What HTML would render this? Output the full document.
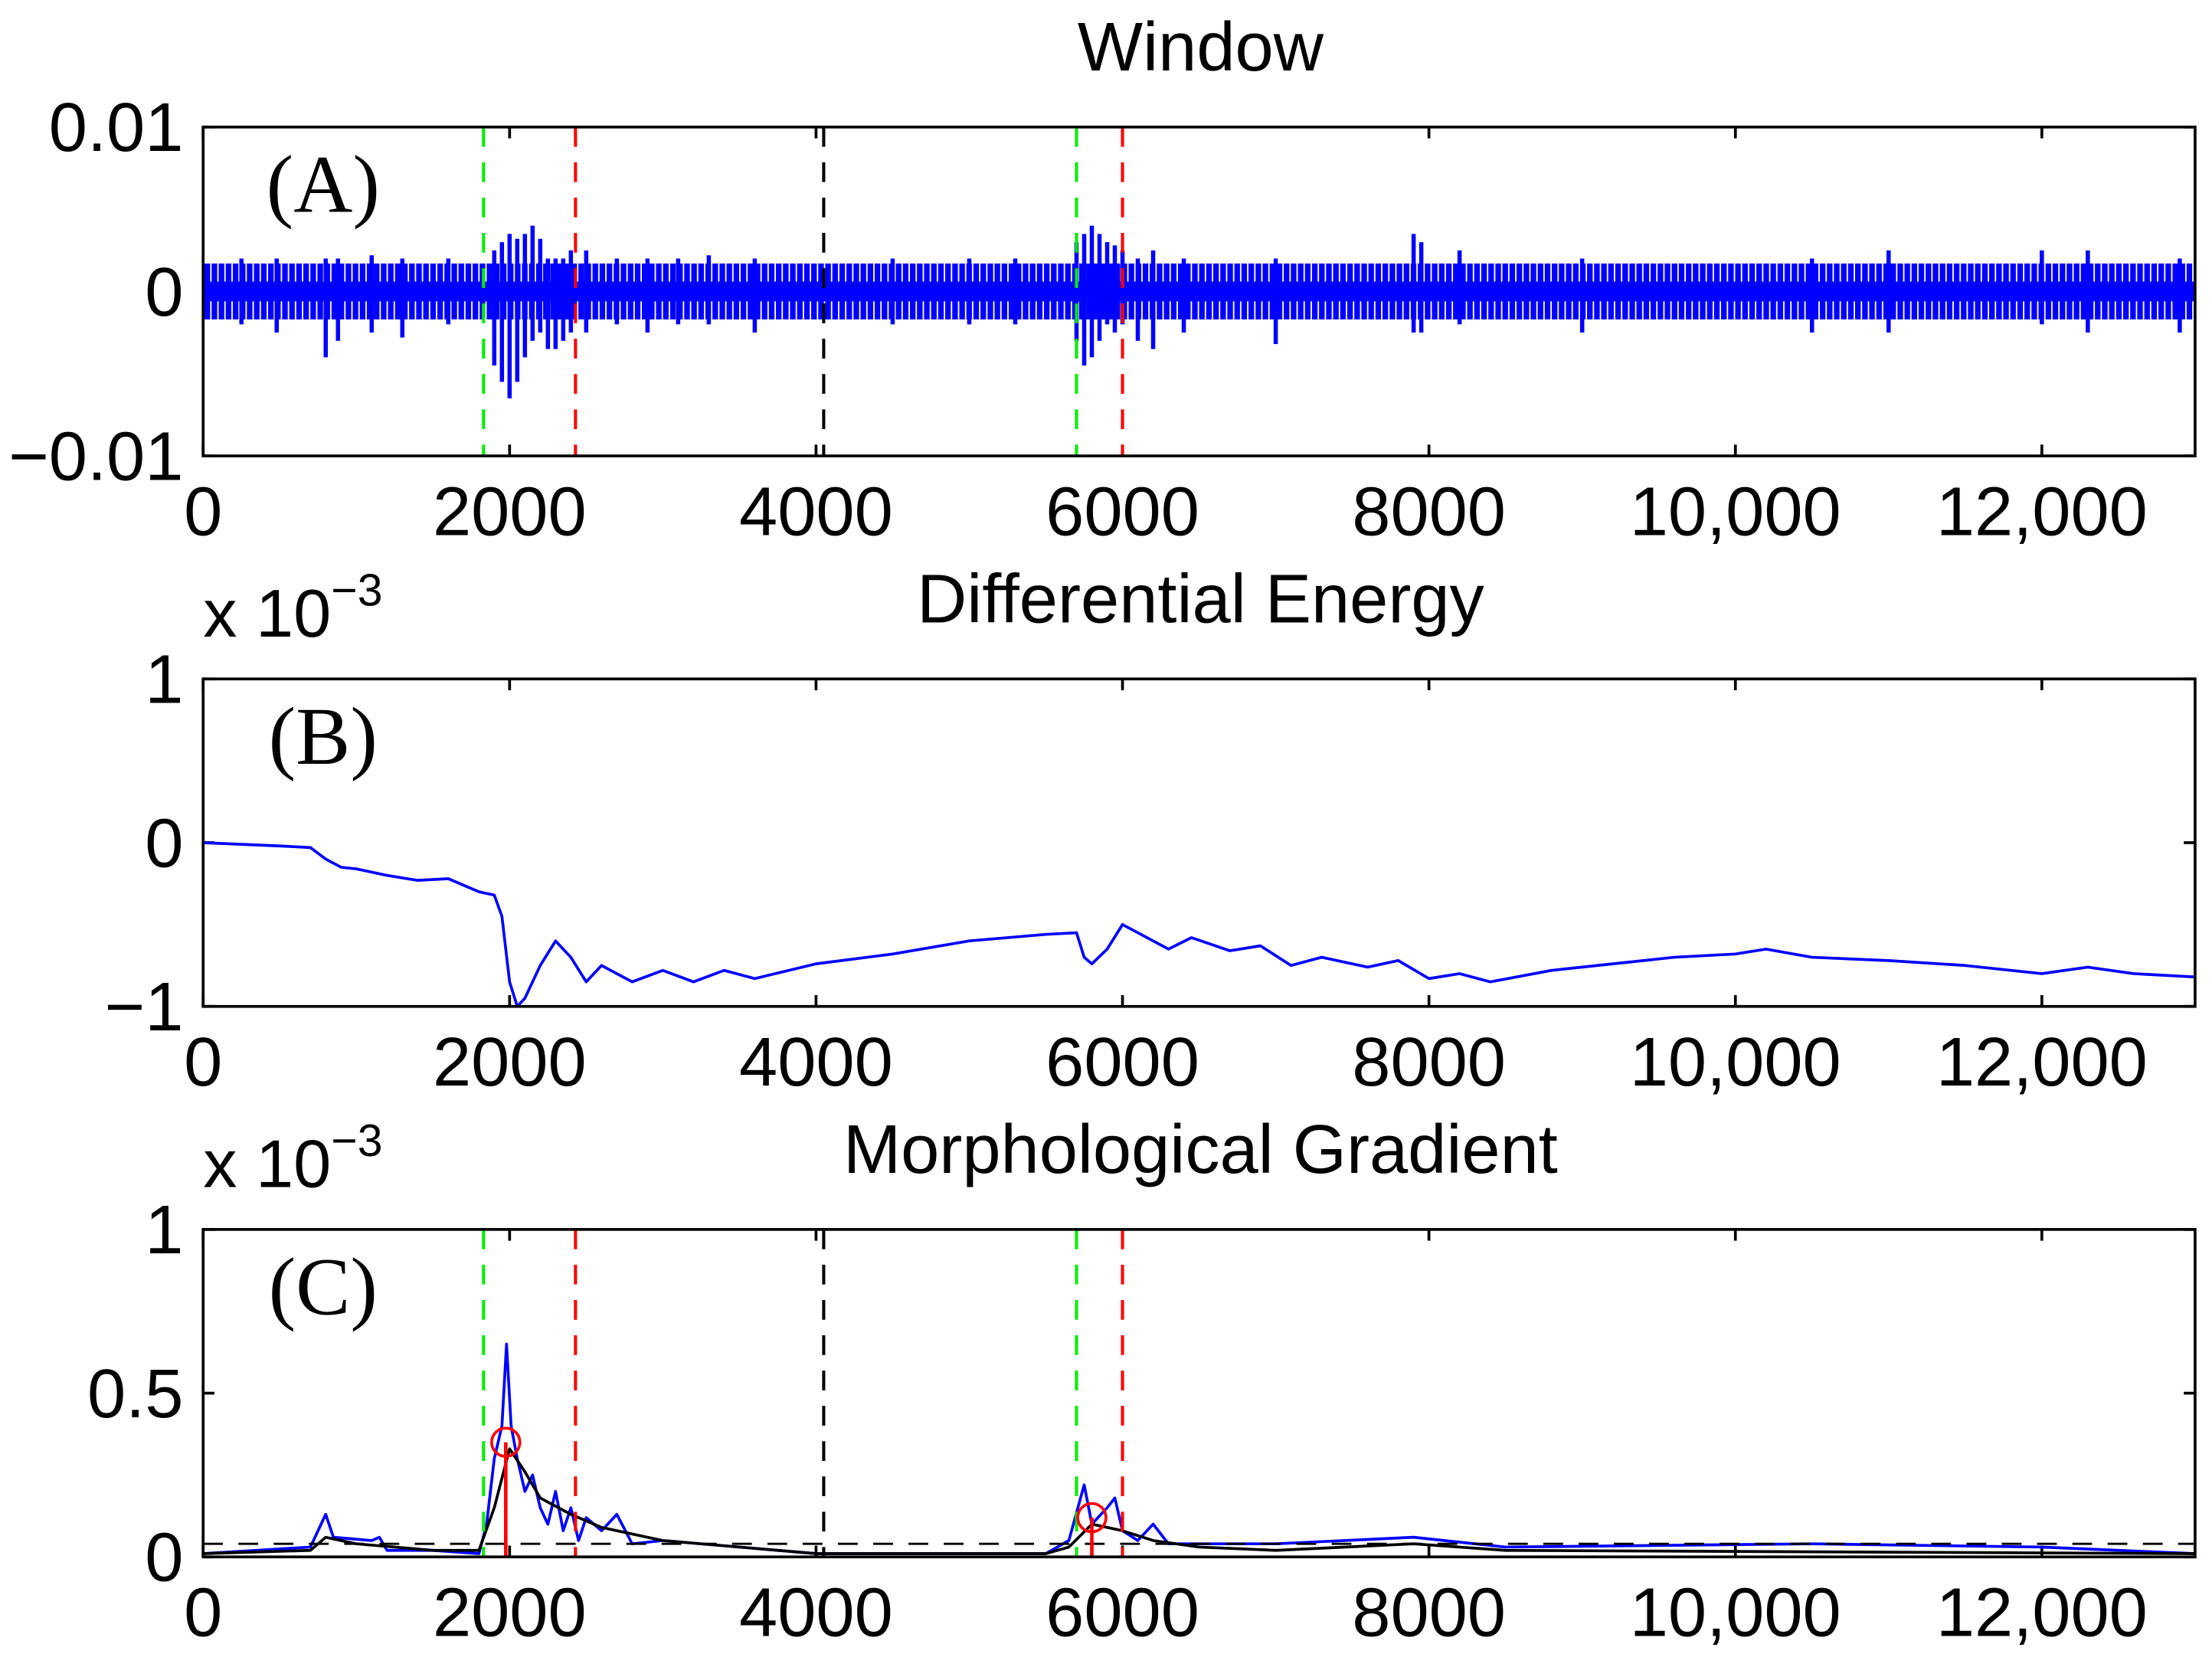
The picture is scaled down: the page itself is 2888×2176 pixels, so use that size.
<!DOCTYPE html>
<html><head><meta charset="utf-8"><style>
html,body{margin:0;padding:0;background:#fff}
svg{display:block}
text{font-family:"Liberation Sans",sans-serif;fill:#000}
.serif{font-family:"Liberation Serif",serif}
</style></head><body>
<svg id="fig" width="2888" height="2176" viewBox="0 0 1568 1181" preserveAspectRatio="none" xmlns="http://www.w3.org/2000/svg">
<defs><pattern id="noise" patternUnits="userSpaceOnUse" width="5" height="10"><rect x="0" y="0" width="4" height="10" fill="#0000ff"/></pattern></defs>
</svg>
<script>
// ---- data ----
const xTicks = [0,2000,4000,6000,8000,10000,12000];
const xTickLabels = ["0","2000","4000","6000","8000","10,000","12,000"];
const aYTicks = [-0.01,0,0.01];
const aYTickLabels = ["\u22120.01","0","0.01"];
const bYTicks = [-1,0,1];
const bYTickLabels = ["\u22121","0","1"];
const cYTicks = [0,0.5,1];
const cYTickLabels = ["0","0.5","1"];
const aBandLo = -0.0017, aBandHi = 0.0017;
const aSpikeX  = [250,480,800,880,1100,1300,1600,1900,1950,2000,2050,2100,2150,2200,2250,2300,2350,2400,2500,2700,2900,3100,3300,3600,4500,5000,5300,5700,5750,5800,5850,5900,5950,6000,6100,6200,6400,7000,7900,7950,8200,9000,10500,11000,12000,12300,12900];
const aSpikeLo = [-0.002,-0.0025,-0.004,-0.003,-0.0025,-0.0028,-0.002,-0.0045,-0.0055,-0.0065,-0.0055,-0.004,-0.003,-0.0025,-0.0035,-0.0035,-0.003,-0.0025,-0.0025,-0.002,-0.0025,-0.002,-0.002,-0.0025,-0.002,-0.002,-0.002,-0.003,-0.0045,-0.004,-0.003,-0.002,-0.0025,-0.002,-0.003,-0.0035,-0.0025,-0.0032,-0.0025,-0.0025,-0.002,-0.0025,-0.0025,-0.0025,-0.002,-0.0025,-0.0025];
const aSpikeHi = [0.002,0.002,0.002,0.002,0.0022,0.002,0.002,0.0025,0.003,0.0035,0.0032,0.0035,0.004,0.0032,0.002,0.002,0.002,0.0025,0.0025,0.002,0.002,0.002,0.0022,0.002,0.002,0.002,0.002,0.003,0.0035,0.004,0.0035,0.003,0.0028,0.0025,0.002,0.0025,0.002,0.002,0.0035,0.003,0.0025,0.002,0.002,0.0025,0.0025,0.0025,0.002];
const bX = [0,500,700,800,900,1000,1200,1400,1600,1800,1900,1950,2000,2050,2100,2200,2300,2400,2500,2600,2700,2800,3000,3200,3400,3600,4000,4500,5000,5500,5700,5750,5800,5900,6000,6100,6300,6450,6700,6900,7100,7300,7600,7800,8000,8200,8400,8800,9200,9600,10000,10200,10500,11000,11500,12000,12300,12600,13000];
const bY = [0,-0.02,-0.03,-0.1,-0.15,-0.16,-0.2,-0.23,-0.22,-0.3,-0.32,-0.45,-0.85,-1.0,-0.95,-0.75,-0.6,-0.7,-0.85,-0.75,-0.8,-0.85,-0.78,-0.85,-0.78,-0.83,-0.74,-0.68,-0.6,-0.56,-0.55,-0.7,-0.74,-0.65,-0.5,-0.55,-0.65,-0.58,-0.66,-0.63,-0.75,-0.7,-0.76,-0.72,-0.83,-0.8,-0.85,-0.78,-0.74,-0.7,-0.68,-0.65,-0.7,-0.72,-0.75,-0.8,-0.76,-0.8,-0.82];
const cBlueX = [0,700,800,850,1100,1150,1200,1500,1800,1850,1900,1950,1980,2010,2050,2100,2150,2200,2250,2300,2350,2400,2450,2500,2600,2700,2800,3000,3500,4000,5000,5500,5650,5750,5800,5900,5950,6000,6100,6200,6300,7000,7900,8500,10500,12000,13000];
const cBlueY = [0.01,0.03,0.13,0.06,0.05,0.06,0.02,0.02,0.01,0.1,0.3,0.4,0.65,0.4,0.3,0.2,0.25,0.15,0.1,0.2,0.08,0.15,0.05,0.12,0.08,0.13,0.04,0.05,0.03,0.01,0.01,0.01,0.05,0.22,0.1,0.15,0.18,0.08,0.05,0.1,0.04,0.04,0.06,0.03,0.04,0.03,0.01];
const cBlackX = [0,700,800,1000,1500,1800,1900,2000,2100,2200,2400,2600,3000,3500,4000,5500,5650,5800,6000,6200,6500,7000,7900,8500,13000];
const cBlackY = [0.01,0.02,0.06,0.04,0.02,0.02,0.15,0.33,0.26,0.18,0.13,0.09,0.05,0.03,0.01,0.01,0.03,0.1,0.08,0.05,0.03,0.02,0.04,0.02,0.01];
const cThreshold = 0.04;
const cPeakX = [1975,5800];
const cPeakY = [0.35,0.12];
const markerX = [1830,2430,4050,5700,6000];
const markerColor = ["#00ee00","#ff0000","#000000","#00ee00","#ff0000"];

// ---- drawing ----
const NS="http://www.w3.org/2000/svg";
const svg=document.getElementById('fig');
const X0=144,X1=1556,XMAX=13000;
const sx=v=>X0+(X1-X0)*v/XMAX;
function el(tag,attrs,parent){const e=document.createElementNS(NS,tag);for(const k in attrs)e.setAttribute(k,attrs[k]);(parent||svg).appendChild(e);return e;}
function txt(s,x,y,size,anchor,parent,cls){const t=el('text',{x:x,y:y,'font-size':size,'text-anchor':anchor||'middle'},parent);if(cls)t.setAttribute('class',cls);t.textContent=s;return t;}

const panels=[
 {id:'a',top:90,bot:323,min:-0.01,max:0.01,ticks:aYTicks,labels:aYTickLabels,title:'Window',tag:'(A)'},
 {id:'b',top:481,bot:713,min:-1,max:1,ticks:bYTicks,labels:bYTickLabels,title:'Differential Energy',tag:'(B)'},
 {id:'c',top:871,bot:1103,min:0,max:1,ticks:cYTicks,labels:cYTickLabels,title:'Morphological Gradient',tag:'(C)'}
];
panels.forEach(p=>{
 p.sy=v=>p.bot-(p.bot-p.top)*(v-p.min)/(p.max-p.min);
 const g=el('g',{});
 
 
 p.g=g;
 const t=txt(p.title,851,p.top-40,49,'middle',g);
 
 
 const tg=txt(p.tag,229,p.top+60,58,'middle',g,'serif');
 
 
 xTicks.forEach((v,i)=>{
  const l=txt(xTickLabels[i],sx(v),p.bot+56,49,'middle',g);
  
  
  el('line',{x1:sx(v),x2:sx(v),y1:p.bot,y2:p.bot-8,stroke:'#000','stroke-width':2},g);
  el('line',{x1:sx(v),x2:sx(v),y1:p.top,y2:p.top+8,stroke:'#000','stroke-width':2},g);
 });
 p.ticks.forEach((v,i)=>{
  const l=txt(p.labels[i],130,p.sy(v)+17,49,'end',g);
  
  
  el('line',{x1:X0,x2:X0+8,y1:p.sy(v),y2:p.sy(v),stroke:'#000','stroke-width':2},g);
  el('line',{x1:X1,x2:X1-8,y1:p.sy(v),y2:p.sy(v),stroke:'#000','stroke-width':2},g);
 });
 if(p.id!=='a'){
  const m=el('text',{x:144,y:p.top-30,'font-size':48,'text-anchor':'start'},g);
  
  
  m.innerHTML='x 10<tspan dy="-22" font-size="32">\u22123</tspan>';
 }
});
function poly(xs,ys,p,color,w,name){
 const pts=xs.map((x,i)=>sx(x)+','+p.sy(ys[i])).join(' ');
 const e=el('polyline',{points:pts,fill:'none',stroke:color,'stroke-width':w,'stroke-linejoin':'round'},p.g);
 
 
}
function markers(p){
 markerX.forEach((v,i)=>{
  const e=el('line',{x1:sx(v),x2:sx(v),y1:p.top,y2:p.bot,stroke:markerColor[i],'stroke-width':2.2,'stroke-dasharray':'14,11'},p.g);
  
  
 });
}
(function(){const p=panels[0];
 const band=el('rect',{x:X0,y:p.sy(aBandHi),width:X1-X0,height:p.sy(aBandLo)-p.sy(aBandHi),fill:'url(#noise)'},p.g);
 
 
 el('rect',{x:X0,y:p.sy(0.0006),width:X1-X0,height:p.sy(-0.0006)-p.sy(0.0006),fill:'#0000ff'},p.g);
 aSpikeX.forEach((v,i)=>{
  const s=el('line',{x1:sx(v),x2:sx(v),y1:p.sy(aSpikeLo[i]),y2:p.sy(aSpikeHi[i]),stroke:'#0000ff','stroke-width':3},p.g);
  
  
 });
 markers(p);
})();
poly(bX,bY,panels[1],'#0000ff',2,'energy-line');
(function(){const p=panels[2];
 poly(cBlueX,cBlueY,p,'#0000ff',2,'gradient-line');
 poly(cBlackX,cBlackY,p,'#000',2,'smoothed-line');
 const th=el('line',{x1:X0,x2:X1,y1:p.sy(cThreshold),y2:p.sy(cThreshold),stroke:'#000','stroke-width':1.5,'stroke-dasharray':'14,11'},p.g);
 
 
 markers(p);
 cPeakX.forEach((v,i)=>{
  const s=el('line',{x1:sx(v),x2:sx(v),y1:p.sy(0),y2:p.sy(cPeakY[i]),stroke:'#ff0000','stroke-width':2.5},p.g);
  
  
  const c=el('circle',{cx:sx(v),cy:p.sy(cPeakY[i]),r:10,fill:'none',stroke:'#ff0000','stroke-width':2},p.g);
  
  
 });
})();
panels.forEach(p=>{
 const f=el('rect',{x:X0,y:p.top,width:X1-X0,height:p.bot-p.top,fill:'none',stroke:'#000','stroke-width':2},p.g);
 
 
});
</script>
</body></html>
